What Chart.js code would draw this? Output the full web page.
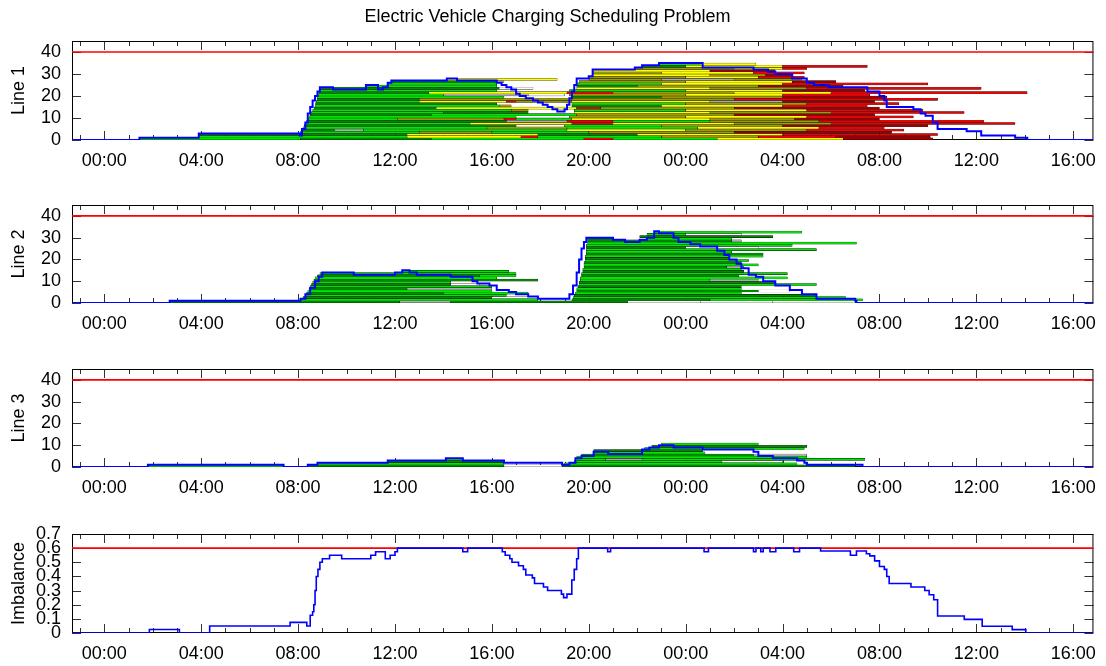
<!DOCTYPE html>
<html>
<head>
<meta charset="utf-8">
<title>Electric Vehicle Charging Scheduling Problem</title>
<script src="https://cdn.jsdelivr.net/npm/chart.js@4.4.1/dist/chart.umd.min.js"></script>
<style>
    body { margin: 0; background: #fff; }
    #page { position: relative; width: 1106px; height: 666px; overflow: hidden; }
    .box { position: absolute; left: 0; width: 1106px; }
</style>
</head>
<body>
<div id="page">
    <div class="box" style="top:0;height:175px"><canvas id="chartLine1"></canvas></div>
    <div class="box" style="top:175px;height:163px"><canvas id="chartLine2"></canvas></div>
    <div class="box" style="top:338px;height:164px"><canvas id="chartLine3"></canvas></div>
    <div class="box" style="top:502px;height:164px"><canvas id="chartImbalance"></canvas></div>
</div>
<script>
// time axis, hours from midnight of day one
const xMin = -1.333;
const xMax = 40.833;
const hourTicks = [0, 4, 8, 12, 16, 20, 24, 28, 32, 36, 40];
const lineTicks = [0, 10, 20, 30, 40];
const imbalanceTicks = [0, 0.1, 0.2, 0.3, 0.4, 0.5, 0.6, 0.7];
const lineLimit = 40;
const imbalanceLimit = 0.6;

// charging slots per row: [start, end, kind]
// G green, D dark green, O olive, Y yellow, A grey, M dark red, R red, W white
const line1Rows = [
    [[1.45, 8.1, 'G'], [8.1, 13.5, 'D'], [13.5, 19.8, 'G'], [19.8, 21, 'R'], [21, 25.3, 'G'], [25.3, 30.5, 'Y'], [30.5, 34.2, 'M']],
    [[3.9, 12.5, 'G'], [12.5, 17.2, 'Y'], [17.2, 17.9, 'R'], [17.9, 23, 'G'], [23, 27, 'O'], [27, 30.2, 'R'], [30.2, 34.1, 'M']],
    [[3.9, 12.5, 'D'], [12.5, 17.9, 'Y'], [17.9, 22, 'D'], [22, 28, 'Y'], [28, 34.4, 'R']],
    [[8.1, 13, 'G'], [13, 16, 'O'], [16, 20, 'G'], [20, 26, 'O'], [26, 32.5, 'M']],
    [[8.15, 9.5, 'D'], [9.5, 10.7, 'A'], [10.7, 19.1, 'G'], [19.1, 24, 'Y'], [24, 29, 'O'], [29, 33, 'R']],
    [[8.2, 15.8, 'G'], [15.8, 19.1, 'O'], [19.1, 24.5, 'G'], [24.5, 29.5, 'Y'], [29.5, 32.2, 'R']],
    [[8.25, 17, 'D'], [17, 19, 'W'], [19, 23, 'G'], [23, 28, 'O'], [28, 34, 'M']],
    [[8.3, 15.1, 'G'], [15.1, 19.3, 'Y'], [19.3, 21, 'R'], [21, 26, 'Y'], [26, 30, 'O'], [30, 37.6, 'R']],
    [[8.35, 16.6, 'D'], [16.6, 19.1, 'A'], [19.1, 21, 'R'], [21, 25, 'G'], [25, 29.5, 'O'], [29.5, 36.3, 'R']],
    [[8.4, 12.1, 'G'], [12.1, 16.5, 'O'], [16.5, 17, 'R'], [17, 19.3, 'G'], [19.3, 25, 'Y'], [25, 28.5, 'O'], [28.5, 32, 'M']],
    [[8.45, 17, 'G'], [17, 19.2, 'W'], [19.2, 24, 'O'], [24, 29, 'Y'], [29, 33.4, 'R']],
    [[8.5, 13.5, 'D'], [13.5, 19.5, 'G'], [19.5, 26, 'O'], [26, 31.8, 'M']],
    [[8.55, 14, 'G'], [14, 17.5, 'D'], [19.4, 25, 'Y'], [25, 30, 'O'], [30, 35.5, 'R']],
    [[8.6, 16.8, 'G'], [16.8, 17.5, 'O'], [19.4, 24, 'G'], [24, 29, 'Y'], [29, 33.8, 'R']],
    [[8.65, 13.7, 'D'], [13.7, 19.5, 'Y'], [19.5, 20.5, 'R'], [20.5, 26, 'O'], [26, 32, 'M']],
    [[8.7, 16.3, 'G'], [16.3, 16.8, 'O'], [19.3, 23, 'D'], [23, 28, 'Y'], [28, 31.5, 'R']],
    [[8.72, 16.2, 'D'], [19.3, 24, 'G'], [24, 29, 'O'], [29, 32.8, 'R']],
    [[8.75, 13, 'G'], [13, 16.6, 'Y'], [16.6, 17, 'R'], [17, 19.3, 'O'], [19.3, 25, 'Y'], [25, 28, 'A'], [28, 31.8, 'M']],
    [[8.78, 13, 'D'], [13, 19.3, 'O'], [19.3, 26, 'O'], [26, 34.4, 'R']],
    [[8.8, 16.5, 'G'], [19.3, 23, 'D'], [23, 28, 'O'], [28, 32.3, 'M']],
    [[8.82, 14, 'G'], [14, 17.5, 'A'], [17.5, 19, 'W'], [19.2, 24, 'O'], [24, 28, 'Y'], [28, 31.6, 'R']],
    [[8.85, 13.4, 'D'], [13.4, 19.1, 'Y'], [19.1, 21, 'R'], [21, 26, 'O'], [26, 30, 'Y'], [30, 38.1, 'R']],
    [[8.88, 16.2, 'G'], [19.2, 24, 'G'], [24, 28, 'Y'], [28, 31.4, 'M']],
    [[8.9, 16.3, 'D'], [16.3, 17.7, 'W'], [19.5, 25, 'Y'], [25, 29, 'O'], [29, 36.2, 'R']],
    [[10.8, 16.2, 'G'], [19.5, 22, 'D'], [22, 27, 'O'], [27, 30.5, 'M']],
    [[11.7, 16.2, 'G'], [19.5, 23, 'G'], [23, 28, 'Y'], [28, 34, 'R']],
    [[11.85, 16.2, 'D'], [16.2, 16.5, 'A'], [19.6, 24, 'O'], [24, 28.4, 'Y'], [28.4, 30.2, 'M']],
    [[14.14, 18.7, 'Y'], [20, 23, 'O'], [23, 26, 'A'], [26, 28.8, 'O']],
    [[20, 24, 'O'], [24, 27, 'Y'], [27, 28.9, 'R']],
    [[20.16, 25, 'Y'], [25, 27.3, 'O'], [27.3, 28.4, 'M']],
    [[20.16, 23, 'O'], [23, 26.8, 'Y'], [26.8, 28.9, 'R']],
    [[20.2, 25, 'Y'], [25, 27.7, 'M']],
    [[21.9, 26, 'O'], [26, 28, 'Y'], [28, 29, 'R']],
    [[22.2, 24, 'D'], [24, 28, 'Y'], [28, 31.5, 'R']],
    [[22.9, 24.6, 'G'], [24.6, 26.9, 'Y']]
];

const line2Rows = [
    [[2.7, 12.2, 'D'], [12.2, 14.3, 'A'], [14.3, 21.6, 'D'], [21.6, 24.6, 'W'], [24.6, 27.6, 'W'], [27.6, 31, 'W']],
    [[8.1, 17.9, 'G'], [19.3, 25, 'D'], [25, 31.3, 'G']],
    [[8.2, 16, 'D'], [16, 17.9, 'W'], [19.35, 30.6, 'G']],
    [[8.3, 16.6, 'G'], [19.4, 29.4, 'D']],
    [[8.35, 14, 'D'], [14, 17.5, 'G'], [19.45, 26.3, 'G']],
    [[8.4, 16, 'G'], [19.5, 27, 'D'], [27, 28.3, 'W']],
    [[8.45, 12.5, 'D'], [12.5, 16, 'A'], [19.5, 26.3, 'G']],
    [[8.5, 16, 'G'], [19.55, 26.3, 'D']],
    [[8.55, 14.3, 'D'], [14.3, 15.5, 'W'], [19.6, 29.4, 'G']],
    [[8.6, 14.3, 'G'], [19.6, 27.7, 'D']],
    [[8.65, 17.9, 'D'], [19.65, 25, 'G'], [25, 27, 'A']],
    [[8.7, 16.2, 'G'], [19.65, 28.2, 'G']],
    [[8.8, 15.5, 'D'], [15.5, 17, 'G'], [19.7, 26.2, 'D']],
    [[8.9, 17, 'G'], [19.7, 28.2, 'G']],
    [[12.3, 16.7, 'G'], [19.75, 26.4, 'D']],
    [[19.75, 26.3, 'G']],
    [[19.8, 25.7, 'D'], [25.7, 26.4, 'A']],
    [[19.8, 27, 'G']],
    [[19.8, 26.3, 'D']],
    [[19.85, 26.6, 'G']],
    [[19.85, 25.8, 'D']],
    [[19.85, 27.2, 'G']],
    [[19.9, 27.2, 'D']],
    [[19.9, 25.9, 'G']],
    [[19.9, 29.4, 'G']],
    [[19.9, 24, 'D'], [24, 27, 'W']],
    [[19.9, 28.4, 'G']],
    [[19.95, 31.05, 'G']],
    [[19.95, 25.9, 'D'], [25.9, 26.3, 'A']],
    [[19.95, 21, 'D'], [22.4, 25.9, 'G']],
    [[22.1, 27.6, 'D']],
    [[22.4, 24, 'G'], [24, 26.3, 'W']],
    [[22.7, 28.8, 'G']]
];

const line3Rows = [
    [[1.8, 7.4, 'G'], [8.4, 16.5, 'D'], [16.5, 18.9, 'W'], [18.9, 31, 'D']],
    [[8.8, 16.5, 'G'], [19, 28.6, 'G']],
    [[11.7, 16.5, 'D'], [19.4, 25.5, 'G'], [25.5, 28, 'W']],
    [[14.1, 14.8, 'G'], [19.5, 20.7, 'G'], [20.7, 22.2, 'A'], [22.2, 31.4, 'G']],
    [[19.5, 29, 'G']],
    [[19.7, 26.8, 'D'], [26.8, 29, 'A']],
    [[20.2, 24.8, 'G']],
    [[20.2, 24.7, 'D']],
    [[22.3, 28.9, 'G']],
    [[22.6, 29, 'D']],
    [[23, 27, 'G']]
];

// vehicles charging on each line: [hour, count]
const line1Level = [
    [xMin, 0], [1.45, 1], [3.9, 3], [8.08, 2], [8.16, 5], [8.3, 8], [8.4, 12], [8.5, 15], [8.6, 18],
    [8.7, 20], [8.8, 22], [8.9, 24], [9.44, 23], [10.8, 25], [11.3, 23], [11.5, 24], [11.7, 26],
    [11.85, 27], [14.14, 28], [14.56, 27], [16.2, 26], [16.4, 25], [16.6, 24], [16.8, 23], [17.0, 21],
    [17.15, 20], [17.4, 19], [17.7, 18], [17.9, 17], [18.1, 16], [18.3, 15], [18.5, 14], [18.7, 13],
    [19.0, 14], [19.1, 16], [19.2, 19], [19.3, 22], [19.4, 25], [19.5, 28], [20.0, 29], [20.16, 32],
    [21.9, 33], [22.2, 34], [22.9, 35], [24.7, 33], [26.8, 32], [27.4, 31], [27.7, 30], [28.4, 28],
    [29.0, 26], [29.3, 25], [29.9, 24], [31.5, 22], [32.0, 20], [32.2, 18], [32.3, 15], [33.4, 14],
    [33.7, 12], [33.9, 11], [34.2, 8], [34.4, 5], [35.6, 4], [36.2, 2], [37.6, 1], [38.1, 0], [xMax, 0]
];

const line2Level = [
    [xMin, 0], [2.7, 1], [8.1, 2], [8.3, 4], [8.5, 7], [8.7, 10], [8.85, 12], [9.0, 14], [10.3, 13],
    [12.0, 14], [12.3, 15], [12.6, 14], [12.9, 13], [14.3, 12], [15.2, 10], [15.4, 9], [15.9, 8],
    [16.2, 6], [16.7, 5], [17.0, 4], [17.5, 3], [17.9, 2], [19.2, 4], [19.35, 8], [19.5, 14],
    [19.6, 20], [19.7, 25], [19.8, 28], [19.9, 30], [21.0, 29], [21.5, 28], [22.1, 29], [22.4, 30],
    [22.7, 33], [22.9, 32], [23.5, 30], [23.7, 28], [24.2, 27], [24.6, 26], [25.3, 24], [25.6, 22],
    [25.8, 20], [26.1, 18], [26.3, 16], [26.6, 13], [26.9, 12], [27.2, 10], [27.7, 8], [28.3, 6],
    [28.8, 4], [29.4, 2], [31.0, 1], [31.05, 0], [xMax, 0]
];

const line3Level = [
    [xMin, 0], [1.8, 1], [7.4, 0], [8.4, 1], [8.8, 2], [11.7, 3], [14.1, 4], [14.8, 3], [16.5, 2],
    [18.9, 1], [19.2, 2], [19.45, 4], [19.7, 5], [20.2, 7], [20.8, 6], [22.2, 8], [22.5, 9],
    [22.9, 10], [23.5, 9], [24.7, 8], [26.8, 7], [27.0, 5], [27.6, 4], [28.6, 3], [28.9, 2],
    [29.0, 1], [31.3, 0], [xMax, 0]
];

const imbalanceLevel = [
    [xMin, 0], [1.86, 0.025], [3.1, 0], [4.35, 0.05], [7.67, 0.075], [8.36, 0.05], [8.5, 0.125],
    [8.6, 0.15], [8.65, 0.2], [8.7, 0.3], [8.75, 0.4], [8.82, 0.45], [8.9, 0.5], [9.0, 0.525],
    [9.3, 0.55], [9.8, 0.525], [11.0, 0.55], [11.2, 0.575], [11.6, 0.525], [11.8, 0.55], [12.0, 0.575],
    [12.1, 0.6], [14.8, 0.575], [15.0, 0.6], [16.43, 0.575], [16.55, 0.55], [16.74, 0.525],
    [16.83, 0.5], [17.1, 0.475], [17.3, 0.45], [17.4, 0.41], [17.67, 0.39], [17.76, 0.35],
    [18.13, 0.325], [18.3, 0.3], [18.87, 0.275], [18.96, 0.25], [19.1, 0.275], [19.3, 0.375],
    [19.4, 0.45], [19.5, 0.525], [19.57, 0.6], [20.78, 0.575], [20.9, 0.6], [24.76, 0.575],
    [24.94, 0.6], [26.8, 0.575], [26.9, 0.6], [27.1, 0.575], [27.2, 0.6], [27.48, 0.575], [27.72, 0.6],
    [28.46, 0.575], [28.7, 0.6], [29.57, 0.58], [30.8, 0.55], [31.05, 0.58], [31.46, 0.56],
    [31.6, 0.545], [31.8, 0.51], [32.0, 0.47], [32.2, 0.45], [32.3, 0.4], [32.4, 0.35], [33.3, 0.325],
    [33.87, 0.3], [34.05, 0.27], [34.24, 0.235], [34.4, 0.12], [35.5, 0.096], [36.24, 0.048],
    [37.48, 0.024], [38.04, 0], [xMax, 0]
];

(function() {
    const palette = {
        G: '#00e600', D: '#008a00', O: '#9c9c00', Y: '#ffff00',
        A: '#acacac', M: '#9a0000', R: '#f00000', W: '#ffffff'
    };

    Chart.defaults.font.family = "'Liberation Sans', Arial, Helvetica, sans-serif";
    Chart.defaults.font.size = 18;
    Chart.defaults.color = '#000';
    Chart.defaults.animation = false;

    // gnuplot style box with inward ticks on all four sides
    const framePlugin = {
        id: 'frame',
        beforeDatasetsDraw(chart, args, opts) {
            const ctx = chart.ctx;
            const a = chart.chartArea;
            const x = chart.scales.x;
            const y = chart.scales.y;
            ctx.save();
            ctx.strokeStyle = '#333';
            ctx.lineWidth = 1;
            ctx.beginPath();
            for (let h = Math.ceil(x.min); h <= x.max; h++) {
                const px = Math.round(x.getPixelForValue(h)) + 0.5;
                const len = h % 4 === 0 ? 9 : 5;
                ctx.moveTo(px, a.bottom);
                ctx.lineTo(px, a.bottom - len);
                ctx.moveTo(px, a.top);
                ctx.lineTo(px, a.top + len);
            }
            opts.yTicks.forEach(function(v) {
                const py = Math.round(y.getPixelForValue(v)) + 0.5;
                ctx.moveTo(a.left, py);
                ctx.lineTo(a.left + 9, py);
                ctx.moveTo(a.right, py);
                ctx.lineTo(a.right - 9, py);
            });
            ctx.stroke();
            ctx.strokeStyle = '#000';
            ctx.strokeRect(a.left + 0.5, a.top + 0.5, a.width - 1, a.height - 1);
            ctx.restore();
        }
    };

    function toBars(rows) {
        const bars = [];
        rows.forEach(function(row, level) {
            row.forEach(function(slot) {
                bars.push({x: [slot[0], slot[1]], y: level + 0.5, kind: slot[2]});
            });
        });
        return bars;
    }

    function toPoints(steps) {
        return steps.map(function(s) { return {x: s[0], y: s[1]}; });
    }

    function hourLabel(v) {
        return String(v % 24).padStart(2, '0') + ':00';
    }

    function renderChart(canvasId, cfg) {
        const datasets = [
            {
                type: 'line',
                data: toPoints(cfg.level),
                borderColor: '#0000ff',
                borderWidth: cfg.blueWidth,
                stepped: true,
                pointRadius: 0,
                fill: false,
                order: 0
            },
            {
                type: 'line',
                data: [{x: xMin, y: cfg.limit}, {x: xMax, y: cfg.limit}],
                borderColor: '#ff0000',
                borderWidth: 1.6,
                pointRadius: 0,
                fill: false,
                order: 1
            }
        ];

        if (cfg.rows) {
            datasets.push({
                type: 'bar',
                indexAxis: 'y',
                data: toBars(cfg.rows),
                backgroundColor: function(ctx) { return palette[ctx.raw.kind]; },
                borderColor: '#000',
                borderWidth: 0.4,
                borderSkipped: false,
                inflateAmount: 0.25,
                barPercentage: 1,
                categoryPercentage: 1,
                order: 2
            });
        }

        return new Chart(document.getElementById(canvasId), {
            type: 'line',
            data: {datasets: datasets},
            plugins: [framePlugin],
            options: {
                responsive: true,
                maintainAspectRatio: false,
                devicePixelRatio: 1,
                layout: {padding: {left: 0, right: 11, top: cfg.padTop, bottom: 0}},
                scales: {
                    x: {
                        type: 'linear',
                        min: xMin,
                        max: xMax,
                        offset: false,
                        afterBuildTicks: function(s) { s.ticks = hourTicks.map(function(v) { return {value: v}; }); },
                        afterFit: function(s) { s.height = cfg.xHeight; },
                        grid: {display: false, drawTicks: false},
                        border: {display: false},
                        ticks: {padding: 10, maxRotation: 0, autoSkip: false, callback: hourLabel}
                    },
                    y: {
                        type: 'linear',
                        min: 0,
                        max: cfg.yMax,
                        offset: false,
                        afterBuildTicks: function(s) { s.ticks = cfg.yTicks.map(function(v) { return {value: v}; }); },
                        afterFit: function(s) { s.width = 72; },
                        grid: {display: false, drawTicks: false},
                        border: {display: false},
                        ticks: {padding: 11, autoSkip: false, callback: function(v) { return String(v); }},
                        title: {display: true, text: cfg.label, padding: {top: 8, bottom: 0}}
                    }
                },
                plugins: {
                    legend: {display: false},
                    tooltip: {enabled: false},
                    frame: {yTicks: cfg.yTicks},
                    title: {
                        display: !!cfg.title,
                        text: cfg.title,
                        font: {size: 18, weight: 'normal'},
                        padding: {top: 6, bottom: 13.4}
                    }
                }
            }
        });
    }

    function init() {
        // line 1
        window.line1Chart = renderChart('chartLine1', {
            rows: line1Rows, level: line1Level, limit: lineLimit, yMax: 45, yTicks: lineTicks,
            label: 'Line 1', title: 'Electric Vehicle Charging Scheduling Problem',
            padTop: 0, xHeight: 35, blueWidth: 2
        });

        // line 2
        window.line2Chart = renderChart('chartLine2', {
            rows: line2Rows, level: line2Level, limit: lineLimit, yMax: 45, yTicks: lineTicks,
            label: 'Line 2', padTop: 30, xHeight: 35, blueWidth: 2
        });

        // line 3
        window.line3Chart = renderChart('chartLine3', {
            rows: line3Rows, level: line3Level, limit: lineLimit, yMax: 45, yTicks: lineTicks,
            label: 'Line 3', padTop: 31, xHeight: 35, blueWidth: 2
        });

        // imbalance
        window.imbalanceChart = renderChart('chartImbalance', {
            rows: null, level: imbalanceLevel, limit: imbalanceLimit, yMax: 0.7, yTicks: imbalanceTicks,
            label: 'Imbalance', padTop: 32, xHeight: 33, blueWidth: 1.6
        });
    }

    init();
})();
</script>
</body>
</html>
